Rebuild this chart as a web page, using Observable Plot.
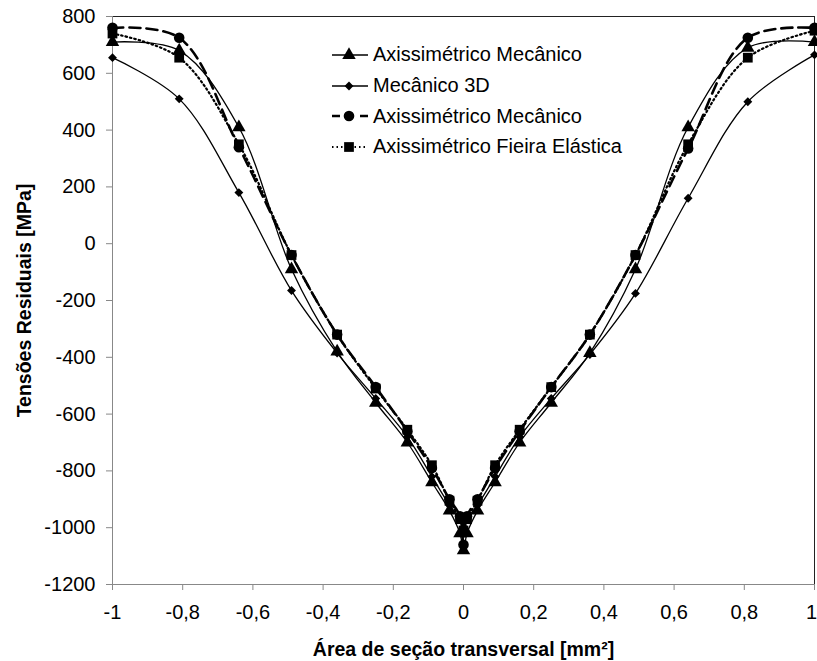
<!DOCTYPE html>
<html>
<head>
<meta charset="utf-8">
<script src="https://cdn.jsdelivr.net/npm/d3@7"></script>
<script src="https://cdn.jsdelivr.net/npm/@observablehq/plot@0.6"></script>
<style>
  body { margin: 0; background: #fff; }
  #wrap { position: relative; width: 817px; height: 661px; font-family: "Liberation Sans", Arial, sans-serif; }
  #wrap svg { display: block; }
  g[aria-label="x-axis label"] text, g[aria-label="y-axis label"] text { font-weight: bold; font-size: 19.5px !important; }
  g[aria-label="x-axis tick label"] text, g[aria-label="y-axis tick label"] text { font-size: 20px !important; }
  g[aria-label="x-axis tick label"], g[aria-label="y-axis tick label"] { font-size: 20px !important; }
  #legend { position: absolute; left: 330px; top: 39.5px; font-size: 20px; color: #000; }
  .item { display: flex; align-items: center; height: 30.7px; }
  .item svg { margin-right: 3px; }
</style>
</head>
<body>
<div id="wrap"></div>
<script>
const xs = [-1, -0.81, -0.64, -0.49, -0.36, -0.25, -0.16, -0.09, -0.04, -0.01, 0, 0.01, 0.04, 0.09, 0.16, 0.25, 0.36, 0.49, 0.64, 0.81, 1];
const axiMec = [710, 680, 410, -90, -380, -560, -700, -840, -940, -1020, -1080, -1020, -940, -840, -700, -560, -385, -90, 410, 690, 710];
const mec3D = [655, 510, 180, -165, -385, -545, -680, -820, -920, -970, -1000, -970, -920, -820, -680, -545, -390, -175, 160, 500, 665];
const axiMec2 = [760, 725, 340, -40, -320, -505, -660, -790, -900, -960, -1060, -960, -900, -790, -660, -505, -320, -40, 335, 725, 760];
const axiFieira = [740, 655, 350, -40, -320, -510, -655, -780, -905, -970, -1010, -970, -905, -780, -655, -505, -320, -40, 350, 655, 750];
const seriesNames = ["Axissimétrico Mecânico", "Mecânico 3D", "Axissimétrico Mecânico", "Axissimétrico Fieira Elástica"];
const xTicks = [-1, -0.8, -0.6, -0.4, -0.2, 0, 0.2, 0.4, 0.6, 0.8, 1];
const yTicks = [-1200, -1000, -800, -600, -400, -200, 0, 200, 400, 600, 800];

const fmt = d => String(d).replace(".", ",");
const toRows = vals => xs.map((x, i) => ({x, y: vals[i]}));

const styles = [
  {vals: axiMec, symbol: "triangle", r: 5, sw: 1.3, dash: null, legDash: null},
  {vals: mec3D, symbol: "diamond2", r: 4, sw: 1.3, dash: null, legDash: null},
  {vals: axiMec2, symbol: "circle", r: 5.3, sw: 2.6, dash: "11,6", legDash: "8,6"},
  {vals: axiFieira, symbol: "square", r: 5.5, sw: 2.2, dash: "1.5,3", legDash: "1.5,3"}
];

const marks = [
  Plot.ruleY([800], {stroke: "#222", strokeWidth: 1}),
  Plot.ruleX([1], {stroke: "#222", strokeWidth: 1}),
  Plot.ruleX([-1], {stroke: "#888", strokeWidth: 1}),
  Plot.ruleY([-1200], {stroke: "#888", strokeWidth: 1}),
  Plot.axisX(xTicks, {ticks: xTicks, tickFormat: fmt, tickSize: 6, tickPadding: 14, stroke: "#888", fill: "#000", label: "Área de seção transversal [mm²]", labelAnchor: "center", labelOffset: 71, labelArrow: "none"}),
  Plot.axisY(yTicks, {ticks: yTicks, tickFormat: fmt, tickSize: 6, tickPadding: 11, stroke: "#888", fill: "#000", label: "Tensões Residuais [MPa]", labelAnchor: "center", labelOffset: 95, labelArrow: "none"})
];
for (const s of styles) {
  const rows = toRows(s.vals);
  marks.push(Plot.line(rows, {x: "x", y: "y", curve: "catmull-rom", stroke: "#000", strokeWidth: s.sw, strokeDasharray: s.dash}));
  marks.push(Plot.dot(rows, {x: "x", y: "y", symbol: s.symbol, r: s.r, fill: "#000", stroke: "none"}));
}

const chart = Plot.plot({
  width: 817,
  height: 661,
  marginLeft: 112,
  marginRight: 3,
  marginTop: 16,
  marginBottom: 77,
  style: {fontFamily: "Liberation Sans, Arial, sans-serif", fontSize: "20px", color: "#000", background: "#fff"},
  x: {domain: [-1, 1]},
  y: {domain: [-1200, 800]},
  marks
});
document.getElementById("wrap").appendChild(chart);

// nudge the last x tick label inward so it is not clipped at the right edge
const xLabels = chart.querySelectorAll('g[aria-label="x-axis tick label"] text');
if (xLabels.length) xLabels[xLabels.length - 1].setAttribute("dx", "-3");

// legend
const legend = document.createElement("div");
legend.id = "legend";
const symPaths = {triangle: d3.symbolTriangle, diamond2: d3.symbolDiamond2, circle: d3.symbolCircle, square: d3.symbolSquare};
styles.forEach((s, i) => {
  const item = document.createElement("div");
  item.className = "item";
  const svg = d3.create("svg").attr("width", 40).attr("height", 20);
  svg.append("line").attr("x1", 2).attr("x2", 38).attr("y1", 10).attr("y2", 10)
    .attr("stroke", "#000").attr("stroke-width", s.sw).attr("stroke-dasharray", s.legDash);
  svg.append("path").attr("transform", "translate(19,10)")
    .attr("d", d3.symbol(symPaths[s.symbol], Math.PI * s.r * s.r)()).attr("fill", "#000");
  item.appendChild(svg.node());
  const t = document.createElement("span");
  t.textContent = seriesNames[i];
  item.appendChild(t);
  legend.appendChild(item);
});
document.getElementById("wrap").appendChild(legend);
</script>
</body>
</html>
